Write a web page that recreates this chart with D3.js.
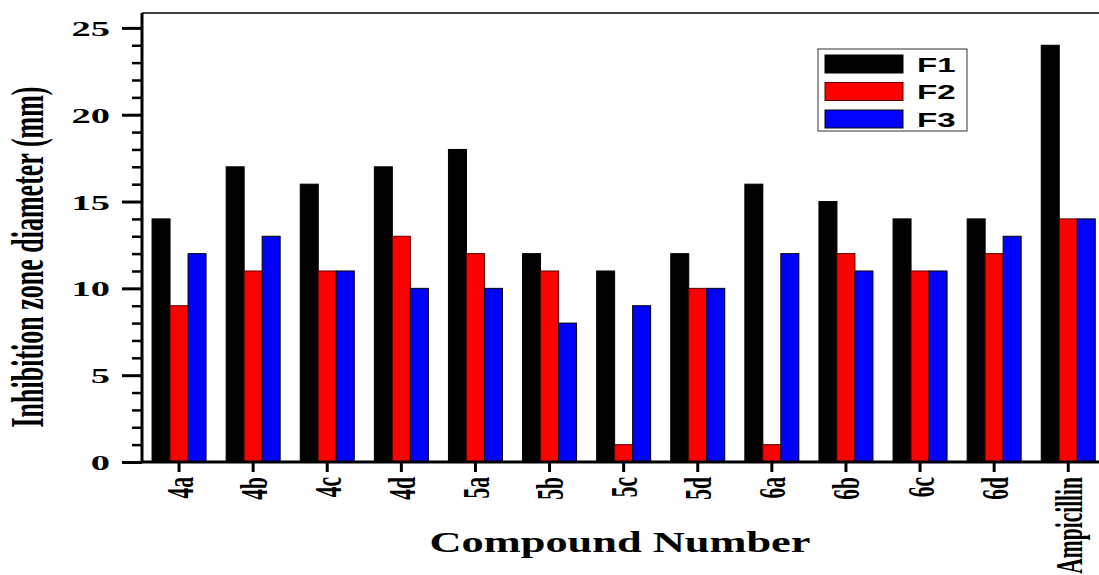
<!DOCTYPE html>
<html>
<head>
<meta charset="utf-8">
<script src="https://cdn.jsdelivr.net/npm/d3@7"></script>
<style>
  body { margin: 0; background: #fff; }
  svg { display: block; }
</style>
</head>
<body>
<div id="chart"></div>
<script>
// data
let compounds = ['4a', '4b', '4c', '4d', '5a', '5b', '5c', '5d', '6a', '6b', '6c', '6d', 'Ampicillin'];
let seriesNames = ['F1', 'F2', 'F3'];
let f1 = [14, 17, 16, 17, 18, 12, 11, 12, 16, 15, 14, 14, 24];
let f2 = [9, 11, 11, 13, 12, 11, 1, 10, 1, 12, 11, 12, 14];
let f3 = [12, 13, 11, 10, 10, 8, 9, 10, 12, 11, 11, 13, 14];
let seriesColors = ['#000000', '#ff0000', '#0000ff'];
let yMajorTicks = [0, 5, 10, 15, 20, 25];

let svgwidth = 1099;
let svgheight = 575;

let margin = { top: 13, left: 142 };
let bandStep = 74.1;
let plotBottom = 462;

// text in the original is stretched sideways
let sx = 1.75;

let table = compounds.map((c, i) => ({ name: c, values: [f1[i], f2[i], f3[i]] }));

let svg = d3.select('#chart').append('svg')
    .attr('width', svgwidth)
    .attr('height', svgheight);

let x0 = d3.scaleBand()
    .domain(compounds)
    .range([margin.left, margin.left + bandStep * compounds.length])
    .padding(0);

let barW = 18;
let x1 = d3.scaleBand()
    .domain(seriesNames)
    .range([(x0.bandwidth() - barW * 3) / 2, (x0.bandwidth() + barW * 3) / 2]);

let y = d3.scaleLinear()
    .domain([0, 25.8])
    .range([plotBottom, 14]);

// bars
let groups = svg.append('g').selectAll('g')
    .data(table)
    .enter()
    .append('g')
    .attr('transform', d => `translate(${x0(d.name)},0)`);

groups.selectAll('rect')
    .data(d => d.values.map((v, i) => ({ key: seriesNames[i], value: v, color: seriesColors[i] })))
    .enter()
    .append('rect')
    .attr('x', d => x1(d.key))
    .attr('y', d => y(d.value))
    .attr('width', x1.bandwidth())
    .attr('height', d => plotBottom - y(d.value))
    .attr('fill', d => d.color)
    .attr('stroke', d => d.key === 'F2' ? '#5a0000' : '#000')
    .attr('stroke-width', 1);

// top frame line
svg.append('line')
    .attr('x1', margin.left)
    .attr('x2', svgwidth)
    .attr('y1', margin.top)
    .attr('y2', margin.top)
    .attr('stroke', '#000')
    .attr('stroke-width', 1.5);

// minor y ticks
let minorVals = d3.range(0, 26).filter(v => v % 5 !== 0);
svg.append('g')
    .attr('transform', `translate(${margin.left},0)`)
    .call(d3.axisLeft(y).tickValues(minorVals).tickSize(10).tickFormat(''))
    .call(g => g.select('.domain').remove())
    .call(g => g.selectAll('line').attr('stroke-width', 2.5));

// major y ticks + labels
let yAxisG = svg.append('g')
    .attr('transform', `translate(${margin.left},0)`)
    .call(d3.axisLeft(y).tickValues(yMajorTicks).tickSize(20).tickSizeOuter(0));

yAxisG.select('.domain')
    .attr('stroke-width', 3)
    .attr('d', `M0,${margin.top}V${plotBottom + 1}`);
yAxisG.selectAll('line').attr('stroke-width', 3);
yAxisG.selectAll('text')
    .attr('x', 0)
    .attr('dy', 0)
    .attr('text-anchor', 'end')
    .attr('transform', `translate(-32,7.5) scale(${sx},1)`)
    .attr('font-family', '"Liberation Serif", "Times New Roman", serif')
    .attr('font-weight', 'bold')
    .attr('font-size', 22)
    .attr('fill', '#000');

// x axis
let xAxisG = svg.append('g')
    .attr('transform', `translate(0,${plotBottom})`)
    .call(d3.axisBottom(x0).tickSize(10).tickSizeOuter(0));

xAxisG.select('.domain')
    .attr('stroke-width', 3)
    .attr('d', `M${margin.left - 1},0H${svgwidth}`);
xAxisG.selectAll('line').attr('stroke-width', 3);
xAxisG.selectAll('text')
    .attr('x', 0)
    .attr('y', 0)
    .attr('dy', 0)
    .attr('text-anchor', 'end')
    .attr('transform', `translate(13.5,15) scale(${sx},1) rotate(-90)`)
    .attr('font-family', '"Liberation Serif", "Times New Roman", serif')
    .attr('font-weight', 'bold')
    .attr('font-size', 21.5)
    .attr('fill', '#000');

// axis titles
svg.append('text')
    .attr('transform', `translate(620,552) scale(1.48,1)`)
    .attr('text-anchor', 'middle')
    .attr('font-family', '"Liberation Serif", "Times New Roman", serif')
    .attr('font-weight', 'bold')
    .attr('font-size', 30)
    .text('Compound Number');

svg.append('text')
    .attr('transform', `translate(43,257) scale(${sx},1) rotate(-90)`)
    .attr('text-anchor', 'middle')
    .attr('font-family', '"Liberation Serif", "Times New Roman", serif')
    .attr('font-weight', 'bold')
    .attr('font-size', 26)
    .text('Inhibition zone diameter (mm)');

// legend
let legend = svg.append('g');
legend.append('rect')
    .attr('x', 818)
    .attr('y', 49)
    .attr('width', 149)
    .attr('height', 82)
    .attr('fill', '#fff')
    .attr('stroke', '#333')
    .attr('stroke-width', 1);

let items = legend.selectAll('.item')
    .data(seriesNames)
    .enter()
    .append('g')
    .attr('transform', (d, i) => `translate(825,${55 + i * 27.5})`);

items.append('rect')
    .attr('width', 78)
    .attr('height', 18)
    .attr('fill', (d, i) => seriesColors[i])
    .attr('stroke', (d, i) => i === 1 ? '#5a0000' : '#000')
    .attr('stroke-width', 1);

items.append('text')
    .attr('transform', `translate(92,16.5) scale(1.65,1)`)
    .attr('font-family', '"Liberation Sans", Arial, sans-serif')
    .attr('font-weight', 'bold')
    .attr('font-size', 20)
    .text(d => d);
</script>
</body>
</html>
